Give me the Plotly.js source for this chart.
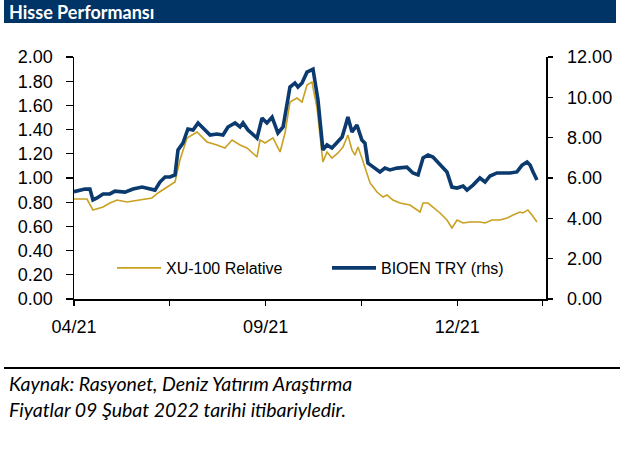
<!DOCTYPE html>
<html>
<head>
<meta charset="utf-8">
<script src="https://cdn.plot.ly/plotly-3.0.1.min.js"></script>
<style>html,body{margin:0;padding:0;background:#fff;}#chart{width:637px;height:450px;}</style>
</head>
<body>
<div id="chart"></div>
<script>
// Trading-day index (0 = start of 04/21) and values
const xuDays = [0,6,8.8,13.5,16.7,20,24.6,30.6,36.2,39,43.2,46.9,49.2,52.5,57.1,61.8,66.4,70.1,73.4,77.1,80.3,85,86.4,88.7,92.4,95.7,98,100.3,103.6,105.9,108.2,110.5,112.8,115.6,117.5,119.8,122.6,124.9,127.2,129.1,130.5,131.9,133.7,135.1,137.5,140.7,143.5,145.4,148.1,151.4,156,160.7,162.1,164.4,166.7,170,173.2,175.5,177.9,180.7,183.9,188.5,190.9,194.1,197.8,201.1,203.9,207.1,208.5,210.8,212.7,215];
const xuRelative = [0.826,0.826,0.736,0.760,0.793,0.818,0.802,0.818,0.835,0.876,0.926,0.967,1.149,1.331,1.380,1.298,1.273,1.248,1.314,1.273,1.248,1.174,1.314,1.289,1.331,1.215,1.372,1.628,1.661,1.628,1.769,1.793,1.587,1.132,1.215,1.165,1.207,1.256,1.355,1.231,1.190,1.256,1.165,1.083,0.959,0.884,0.843,0.860,0.818,0.793,0.777,0.719,0.793,0.793,0.760,0.711,0.653,0.587,0.653,0.628,0.636,0.636,0.628,0.653,0.653,0.669,0.694,0.719,0.711,0.736,0.694,0.636];

const bioDays = [0,5.1,7.4,8.8,10.7,13.5,16.7,19,23.7,27.4,31.6,35.3,37.6,39.9,42.3,44.6,46.9,48.3,50.6,52.9,55.3,57.6,59.9,63.2,66.4,69.2,71.5,74.8,77.1,78.5,80.8,85,87.3,89.6,92,94.7,97.1,100.3,102.6,104,105.9,108.2,111,113.3,115.6,117.5,119.8,122.1,124.5,125.9,127.2,129.1,131.4,133.7,135.1,136.5,138.9,142.1,144.4,146.7,150,154.6,157.4,159.8,162.1,164.4,166.7,170,173.2,175.5,177.9,180.7,182.5,185.3,188.5,190.9,193.2,196.4,199.2,202.5,205.7,208.1,210.4,211.8,213.2,215];
const bioenTry = [5.32,5.45,5.45,4.91,5.01,5.21,5.21,5.35,5.30,5.45,5.55,5.45,5.40,5.80,6.05,6.05,6.15,7.39,7.73,8.43,8.38,8.73,8.48,8.13,8.18,8.13,8.53,8.73,8.53,8.73,8.38,7.98,8.97,8.73,9.02,8.23,8.53,10.51,10.71,10.51,10.71,11.25,11.40,9.87,7.39,7.64,7.49,7.73,8.03,8.53,9.02,8.28,8.63,7.88,7.73,6.74,6.54,6.30,6.49,6.40,6.49,6.54,6.25,6.15,6.99,7.14,7.04,6.64,6.30,5.55,5.50,5.60,5.40,5.65,6.00,5.80,6.10,6.25,6.25,6.25,6.30,6.64,6.79,6.64,6.30,5.90];

const xTickVals = [0,44.5,89,133.5,178,217.6];
const xTickText = ["04/21","","09/21","","12/21",""];
const seriesNames = ["XU-100 Relative","BIOEN TRY (rhs)"];
const headerTitle = "Hisse Performansı";
const footerLines = ["Kaynak: Rasyonet, Deniz Yatırım Araştırma","Fiyatlar 09 Şubat 2022 tarihi itibariyledir."];

// plot area in pixels: x 74..546, y 57..299
const L = 74, R = 546, T = 57, B = 299;
const px = v => (v - L) / (R - L);
const py = v => (B - v) / (B - T);

const tickFont = {family: "Liberation Sans", size: 18, color: "#000"};

const traces = [
  {x: xuDays, y: xuRelative, name: seriesNames[0], type: "scatter", mode: "lines",
   line: {color: "#C9A020", width: 1.6}, xaxis: "x", yaxis: "y"},
  {x: bioDays, y: bioenTry, name: seriesNames[1], type: "scatter", mode: "lines",
   line: {color: "#0B3A6E", width: 3.6}, xaxis: "x", yaxis: "y2"}
];

const layout = {
  width: 637, height: 450,
  margin: {l: L, r: 637 - R, t: T, b: 450 - B, pad: 0},
  paper_bgcolor: "#fff", plot_bgcolor: "#fff",
  showlegend: true,
  legend: {orientation: "h", x: px(112), y: py(268), xanchor: "left", yanchor: "middle",
           font: {family: "Liberation Sans", size: 16, color: "#000"},
           itemwidth: 44,
           entrywidth: 156, entrywidthmode: "pixels", bgcolor: "rgba(0,0,0,0)", traceorder: "normal"},
  xaxis: {range: [0, 219.2], tickmode: "array", tickvals: xTickVals, ticktext: xTickText,
          ticks: "outside", ticklen: 5, tickwidth: 1.3, tickcolor: "#000",
          showline: true, linecolor: "#000", linewidth: 1.5, showgrid: false, zeroline: false,
          tickfont: tickFont, ticklabelstandoff: 6, fixedrange: true},
  yaxis: {range: [0, 2], dtick: 0.2, tick0: 0, tickformat: ".2f",
          ticks: "outside", ticklen: 7, tickwidth: 1.3, tickcolor: "#000",
          showline: true, linecolor: "#000", linewidth: 1.5, showgrid: false, zeroline: false,
          tickfont: tickFont, ticklabelstandoff: 9},
  yaxis2: {range: [0, 12], dtick: 2, tick0: 0, tickformat: ".2f", overlaying: "y", side: "right",
           ticks: "outside", ticklen: 5, tickwidth: 1.3, tickcolor: "#000",
           showline: true, linecolor: "#000", linewidth: 1.5, showgrid: false, zeroline: false,
           tickfont: tickFont, ticklabelstandoff: 11},
  yaxis3: {range: [0, 2], dtick: 0.2, tick0: 0, overlaying: "y", side: "left", anchor: "x",
           ticks: "inside", ticklen: 6, tickwidth: 1.3, tickcolor: "#000",
           showticklabels: false, showline: false, showgrid: false, zeroline: false},
  yaxis4: {range: [0, 12], dtick: 2, tick0: 0, overlaying: "y", side: "right", anchor: "x",
           ticks: "inside", ticklen: 7, tickwidth: 1.3, tickcolor: "#000",
           showticklabels: false, showline: false, showgrid: false, zeroline: false},
  shapes: [
    {type: "rect", xref: "paper", yref: "paper", x0: px(4), x1: px(616), y0: py(23), y1: py(0),
     fillcolor: "#003366", line: {width: 0}, layer: "above"},
    {type: "line", xref: "paper", yref: "paper", x0: px(4), x1: px(620), y0: py(368), y1: py(368),
     line: {color: "#000", width: 2}}
  ],
  annotations: [
    {text: "<b>" + headerTitle + "</b>", xref: "paper", yref: "paper", x: px(7), y: py(12),
     xanchor: "left", yanchor: "middle", showarrow: false,
     font: {family: "Lato", size: 18, color: "#fff"}},
    {text: footerLines[0], xref: "paper", yref: "paper", x: px(7), y: py(383),
     xanchor: "left", yanchor: "middle", showarrow: false,
     font: {family: "Lato", size: 19.5, color: "#000", style: "italic"}},
    {text: footerLines[1], xref: "paper", yref: "paper", x: px(7), y: py(409),
     xanchor: "left", yanchor: "middle", showarrow: false,
     font: {family: "Lato", size: 19.5, color: "#000", style: "italic"}}
  ]
};

Plotly.newPlot("chart", traces, layout, {staticPlot: true, displayModeBar: false});
</script>
</body>
</html>
